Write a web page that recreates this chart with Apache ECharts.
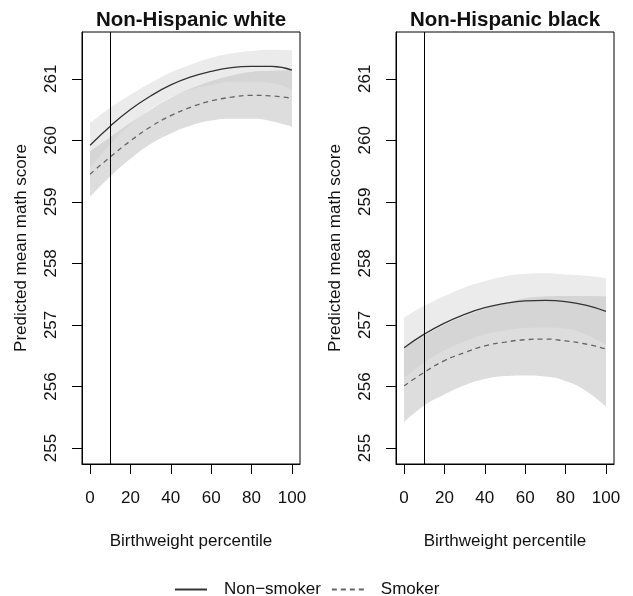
<!DOCTYPE html>
<html><head><meta charset="utf-8">
<script src="https://cdn.jsdelivr.net/npm/echarts@6/dist/echarts.min.js"></script>
<style>html,body{margin:0;padding:0;background:#fff}#c{width:633px;height:596px}</style>
</head><body><div id="c"></div>
<script>
const percentiles = [0, 10, 20, 30, 40, 50, 60, 70, 80, 90, 100];
const xTicks = [0, 20, 40, 60, 80, 100];
const yTicks = [255, 256, 257, 258, 259, 260, 261];
const panelTitles = ['Non-Hispanic white', 'Non-Hispanic black'];
const seriesNames = ['Non\u2212smoker', 'Smoker'];
const cutoffPercentile = 10;

// Non-Hispanic white
const whiteNonSmoker      = [259.92, 260.23, 260.50, 260.72, 260.90, 261.03, 261.12, 261.18, 261.20, 261.20, 261.14];
const whiteNonSmokerLower = [259.56, 259.93, 260.26, 260.51, 260.70, 260.83, 260.90, 260.95, 260.95, 260.93, 260.82];
const whiteNonSmokerUpper = [260.28, 260.53, 260.74, 260.93, 261.10, 261.23, 261.34, 261.41, 261.45, 261.47, 261.46];
const whiteSmoker         = [259.45, 259.73, 259.99, 260.22, 260.40, 260.54, 260.64, 260.70, 260.73, 260.72, 260.68];
const whiteSmokerLower    = [259.08, 259.41, 259.70, 259.94, 260.11, 260.24, 260.32, 260.35, 260.35, 260.31, 260.22];
const whiteSmokerUpper    = [259.82, 260.05, 260.28, 260.50, 260.69, 260.84, 260.96, 261.05, 261.11, 261.13, 261.14];

// Non-Hispanic black
const blackNonSmoker      = [256.63, 256.85, 257.03, 257.17, 257.28, 257.35, 257.39, 257.40, 257.38, 257.32, 257.22];
const blackNonSmokerLower = [256.14, 256.39, 256.59, 256.73, 256.85, 256.91, 256.95, 256.96, 256.94, 256.84, 256.68];
const blackNonSmokerUpper = [257.12, 257.31, 257.47, 257.61, 257.71, 257.79, 257.83, 257.84, 257.82, 257.80, 257.76];
const blackSmoker         = [256.01, 256.23, 256.42, 256.55, 256.66, 256.72, 256.76, 256.77, 256.74, 256.69, 256.61];
const blackSmokerLower    = [255.42, 255.69, 255.87, 256.02, 256.12, 256.17, 256.18, 256.16, 256.09, 255.93, 255.67];
const blackSmokerUpper    = [256.62, 256.82, 257.00, 257.14, 257.26, 257.35, 257.43, 257.46, 257.47, 257.47, 257.46];

const panels = [
  {ns: whiteNonSmoker, nsLo: whiteNonSmokerLower, nsHi: whiteNonSmokerUpper, s: whiteSmoker, sLo: whiteSmokerLower, sHi: whiteSmokerUpper},
  {ns: blackNonSmoker, nsLo: blackNonSmokerLower, nsHi: blackNonSmokerUpper, s: blackSmoker, sLo: blackSmokerLower, sHi: blackSmokerUpper}
];

const FONT = "'Liberation Sans', Arial, Helvetica, sans-serif";
const gridLefts = [82, 396];

function pairs(ys) { return percentiles.map((x, i) => [x, ys[i]]); }
// [y, x] order so that the stacked dimension is the y value
function pairsYX(ys) { return percentiles.map((x, i) => [ys[i], x]); }

function band(gi, key, lo, hi, color) {
  return [
    {type: 'line', name: key + 'lo', xAxisIndex: gi, yAxisIndex: gi, stack: key + gi, smooth: true,
     encode: {x: 1, y: 0},
     symbol: 'none', silent: true, lineStyle: {opacity: 0, width: 0}, data: pairsYX(lo)},
    {type: 'line', name: key + 'hi', xAxisIndex: gi, yAxisIndex: gi, stack: key + gi, smooth: true,
     encode: {x: 1, y: 0},
     symbol: 'none', silent: true, lineStyle: {opacity: 0, width: 0},
     areaStyle: {color: color, opacity: 1},
     data: pairsYX(hi.map((v, i) => Math.max(0, v - lo[i])))}
  ];
}

const series = [];
panels.forEach((p, gi) => {
  const ovLo = p.nsLo.map((v, i) => Math.max(v, p.sLo[i]));
  const ovHi = p.nsHi.map((v, i) => Math.min(v, p.sHi[i]));
  series.push(...band(gi, 'ns', p.nsLo, p.nsHi, '#ebebeb'));
  series.push(...band(gi, 'sm', p.sLo, p.sHi, '#dddddd'));
  series.push(...band(gi, 'ov', ovLo, ovHi, '#d5d5d5'));
  series.push({type: 'line', name: seriesNames[0], xAxisIndex: gi, yAxisIndex: gi, smooth: true,
    symbol: 'none', color: '#333', lineStyle: {color: '#333', width: 1.3, type: 'solid'}, data: pairs(p.ns)});
  series.push({type: 'line', name: seriesNames[1], xAxisIndex: gi, yAxisIndex: gi, smooth: true,
    symbol: 'none', color: '#666', lineStyle: {color: '#666', width: 1.3, type: [5, 4]}, data: pairs(p.s),
    markLine: {silent: true, symbol: 'none', label: {show: false},
      lineStyle: {color: '#000', width: 1, type: 'solid'}, emphasis: {disabled: true},
      data: [{xAxis: cutoffPercentile}]}});
});

const option = {
  animation: false,
  backgroundColor: '#fff',
  textStyle: {fontFamily: FONT},
  title: panelTitles.map((t, i) => ({
    text: t, left: gridLefts[i] + 109, top: 10, textAlign: 'center', padding: 0,
    textStyle: {fontFamily: FONT, fontSize: 20.5, fontWeight: 'bold', color: '#111'}
  })),
  legend: {
    data: seriesNames, left: 174, top: 581, padding: 0, itemWidth: 32, itemHeight: 14, itemGap: 10,
    itemStyle: {opacity: 0, color: 'transparent', borderWidth: 0},
    textStyle: {fontFamily: FONT, fontSize: 17, color: '#111', padding: [0, 0, 0, 12]}
  },
  grid: gridLefts.map(l => ({left: l, top: 32, width: 218, height: 432, show: true,
    borderColor: '#000', borderWidth: 1, backgroundColor: 'transparent', containLabel: false})),
  xAxis: gridLefts.map((l, i) => ({
    type: 'value', gridIndex: i, min: -4, max: 104,
    name: 'Birthweight percentile', nameLocation: 'middle', nameGap: 69,
    nameTextStyle: {fontFamily: FONT, fontSize: 17, color: '#111'},
    axisLine: {show: true, onZero: false, lineStyle: {color: '#000', width: 1}},
    axisTick: {show: true, length: 10, customValues: xTicks, lineStyle: {color: '#000', width: 1}},
    axisLabel: {customValues: xTicks, margin: 26, fontFamily: FONT, fontSize: 17, color: '#111'},
    splitLine: {show: false}
  })),
  yAxis: gridLefts.map((l, i) => ({
    type: 'value', gridIndex: i, min: 254.74, max: 261.76,
    name: 'Predicted mean math score', nameLocation: 'middle', nameGap: 52, nameRotate: 90,
    nameTextStyle: {fontFamily: FONT, fontSize: 17, color: '#111'},
    axisLine: {show: true, onZero: false, lineStyle: {color: '#000', width: 1}},
    axisTick: {show: true, length: 10, customValues: yTicks, lineStyle: {color: '#000', width: 1}},
    axisLabel: {customValues: yTicks, rotate: 90, margin: 22, fontFamily: FONT, fontSize: 17, color: '#111'},
    splitLine: {show: false}
  })),
  series: series
};

const chart = echarts.init(document.getElementById('c'), null, {renderer: 'canvas'});
chart.setOption(option);
</script></body></html>
